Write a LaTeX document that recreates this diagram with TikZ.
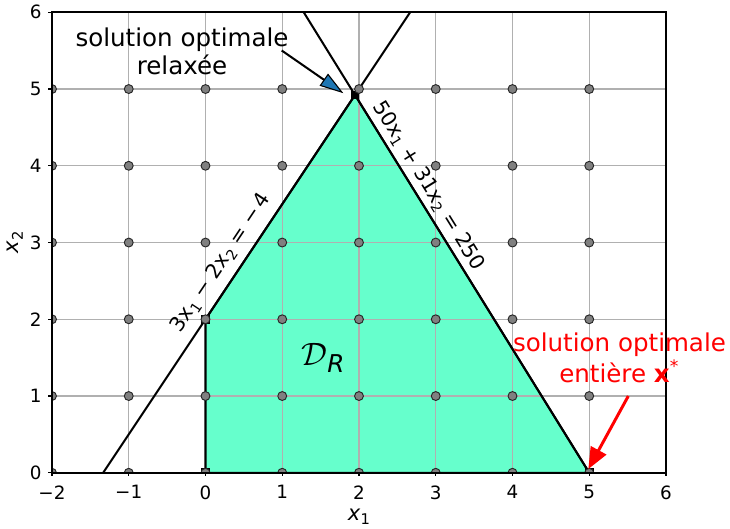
\documentclass[tikz,border=0pt]{standalone}
\usepackage{fontspec}
\usepackage{graphicx}
\setmainfont{DejaVu Sans}
\usetikzlibrary{arrows.meta,calc}
\definecolor{fillc}{HTML}{66FFCC}
\definecolor{cblue}{HTML}{1F77B4}
\definecolor{gridc}{HTML}{B0B0B0}
\definecolor{ptc}{HTML}{808080}
\newcommand\lsub[1]{\raisebox{-0.35ex}{\scalebox{0.7}{#1}}}
\begin{document}
\begin{tikzpicture}[x=1cm,y=1cm,
  gridline/.style={gridc, line width=0.4pt},
  bound/.style={black, line width=0.75pt},
  ptmark/.style={fill=ptc, draw=black!85, line width=0.35pt},
  vmark/.style={fill=black},
  ticklab/.style={font=\fontsize{6.8}{7.5}\selectfont, inner sep=0pt},
  axlab/.style={font=\fontsize{7.8}{8.5}\selectfont, inner sep=0pt},
  ann/.style={font=\fontsize{9.1}{10.4}\selectfont, align=center, inner sep=0pt},
  eqlab/.style={font=\fontsize{7.6}{8.5}\selectfont, inner sep=0pt}]
\useasboundingbox (-2.6775,-0.7236) rectangle (6.834,6.160);

% vertices of the relaxed domain
\coordinate (O) at (0,0);
\coordinate (A) at (0,2);
\coordinate (P) at (1.9482,4.9223);
\coordinate (B) at (5,0);
% ends of the constraint lines
\coordinate (L1a) at (-1.3333,0);
\coordinate (L1b) at (2.6667,6);
\coordinate (L2a) at (1.28,6);
\coordinate (L2b) at (5,0);

\begin{scope}
  \clip (-2,0) rectangle (6,6);
  \fill[fillc] (O) -- (A) -- (P) -- (B) -- cycle;
  \foreach \x in {-2,...,6} \draw[gridline] (\x,0) -- (\x,6);
  \foreach \y in {0,...,6} \draw[gridline] (-2,\y) -- (6,\y);
  \draw[bound] (L1a) -- (L1b);
  \draw[bound] (L2a) -- (L2b);
  \draw[bound] (O) -- (A) -- (P) -- (B) -- cycle;
  \foreach \p in {O,A,P,B}
    \fill[vmark] ($(\p)+(-0.058,-0.058)$) rectangle ($(\p)+(0.058,0.058)$);
  \foreach \x in {-2,...,5}
    \foreach \y in {0,...,5}
      \draw[ptmark] (\x,\y) circle (0.058);
\end{scope}

% frame
\draw[black, line width=0.6pt] (-2,0) rectangle (6,6);
% ticks and labels
\foreach \x/\l in {-2/−2,-1/−1,0/0,1/1,2/2,3/3,4/4,5/5,6/6} {
  \draw[black, line width=0.5pt] (\x,0) -- (\x,-0.046);
  \node[ticklab, anchor=north] (tx\x) at (\x,-0.16) {\l};
}
\foreach \y in {0,...,6} {
  \draw[black, line width=0.5pt] (-2,\y) -- (-2.046,\y);
  \node[ticklab, anchor=east] (ty\y) at (-2.13,\y) {\y};
}
\node[axlab] (xlab) at (2,-0.575) {\textit{x}\lsub{1}};
\node[axlab, rotate=90] (ylab) at (-2.482,3) {\textit{x}\lsub{2}};

% constraint labels
\node[eqlab, rotate=56.31] (eq1) at (0.202,2.734) {3x\lsub{1} − 2x\lsub{2} = −\,4};
\node[eqlab, rotate=-58.20] (eq2) at (2.903,3.738) {50x\lsub{1} + 31x\lsub{2} = 250};

% domain label
\node[inner sep=0pt, font=\fontsize{13}{14}\selectfont] (DR) at (1.531,1.495) {$\mathcal{D}$\lsub{\textit{R}}};

% annotations
\node[ann] (relax) at (-0.306,5.489) {solution optimale\\relaxée};
\node[ann, text=red] (entiere) at (5.394,1.493) {solution optimale\\entière \textbf{x}\textsuperscript{*}};

\coordinate (bs) at (0.993,5.502);
\coordinate (bt) at (1.796,4.946);
\draw[black, line width=0.75pt, -{Triangle[length=0.31cm,width=0.19cm,fill=cblue,line width=0.4pt]}] (bs) -- (bt);

\coordinate (rs) at (5.509,1.0);
\coordinate (rt) at (4.988,0.048);
\draw[red, line width=1.1pt, -{Triangle[length=0.28cm,width=0.225cm]}] (rs) -- (rt);
\end{tikzpicture}
\end{document}
